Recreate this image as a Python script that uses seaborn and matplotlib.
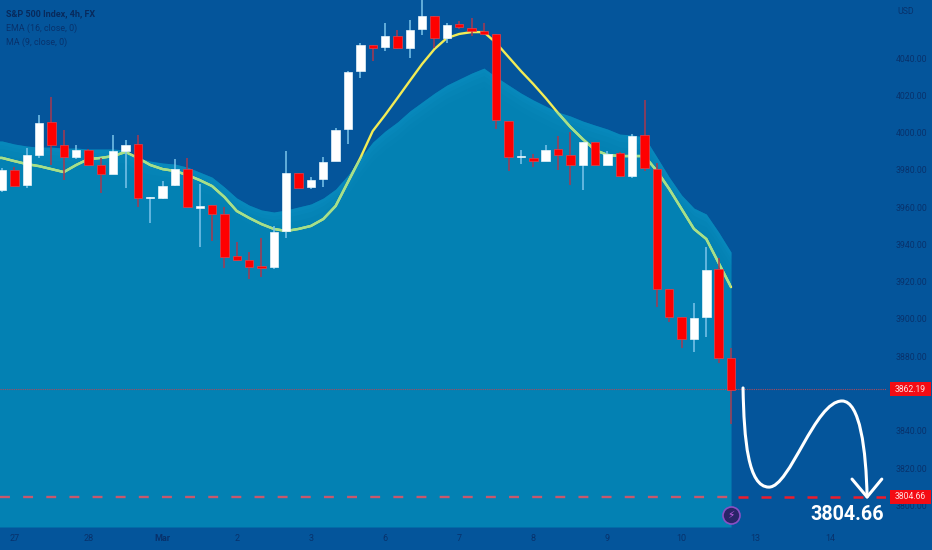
import numpy as np
import pandas as pd
import matplotlib.pyplot as plt
from matplotlib.patches import PathPatch, Rectangle
from matplotlib.path import Path
from matplotlib.transforms import blended_transform_factory
import seaborn as sns

# candles, oldest first (4h bars)
opens = [3969.2, 3979.9, 3971.8, 3987.9, 4005.6, 3993.3, 3986.9, 3990.6, 3982.6, 3977.8,
         3990.1, 3993.8, 3964.9, 3964.9, 3971.8, 3980.4, 3959.5, 3961.1, 3956.3, 3933.8,
         3931.6, 3928.4, 3927.9, 3947.2, 3978.3, 3970.8, 3975.1, 3984.7, 4001.9, 4033.0,
         4047.0, 4045.9, 4051.8, 4045.3, 4055.5, 4062.5, 4050.7, 4058.2, 4056.1, 4054.5,
         4052.9, 4006.2, 3986.9, 3986.3, 3984.7, 3991.2, 3987.9, 3982.6, 3994.9, 3982.6,
         3989.0, 3976.7, 3998.7, 3980.4, 3916.0, 3901.0, 3889.2, 3901.0, 3926.8, 3879.0]
highs = [3981.0, 3981.5, 3991.7, 4009.4, 4019.0, 4001.4, 3993.3, 3991.2, 3986.3, 3998.7,
         3996.0, 3998.7, 3965.4, 3974.0, 3985.8, 3986.3, 3972.4, 3961.1, 3960.0, 3941.3,
         3935.9, 3943.4, 3949.9, 3990.1, 3978.3, 3976.1, 3986.9, 4002.4, 4033.0, 4048.0,
         4047.0, 4058.8, 4055.0, 4060.4, 4071.1, 4062.5, 4058.8, 4059.8, 4061.4, 4058.8,
         4052.9, 4006.2, 3990.6, 3988.5, 3993.3, 3998.1, 4000.3, 3994.9, 3994.9, 3990.1,
         3989.5, 3999.2, 4017.5, 3983.7, 3916.0, 3901.0, 3908.5, 3938.6, 3932.7, 3884.4]
lows = [3968.1, 3970.8, 3970.2, 3986.3, 3982.6, 3974.5, 3985.8, 3982.0, 3967.6, 3977.8,
        3970.2, 3960.0, 3951.5, 3964.3, 3971.3, 3960.0, 3938.6, 3941.8, 3927.3, 3931.1,
        3921.4, 3922.5, 3926.8, 3943.4, 3970.2, 3969.7, 3970.8, 3984.7, 3993.8, 4029.3,
        4038.4, 4043.7, 4044.8, 4040.0, 4052.3, 4045.3, 4048.0, 4055.5, 4051.8, 4052.3,
        4001.9, 3979.4, 3983.1, 3981.5, 3984.7, 3979.9, 3971.8, 3969.2, 3982.6, 3982.6,
        3976.1, 3975.6, 3979.4, 3906.4, 3898.3, 3884.4, 3882.3, 3890.3, 3876.3, 3843.6]
closes = [3979.9, 3971.3, 3987.9, 4005.1, 3993.3, 3986.9, 3990.6, 3982.6, 3977.8, 3990.1,
          3993.3, 3964.9, 3965.4, 3971.3, 3980.4, 3960.0, 3960.6, 3956.3, 3933.2, 3931.6,
          3927.9, 3927.3, 3946.6, 3978.3, 3970.2, 3974.5, 3984.2, 4001.4, 4032.5, 4047.0,
          4045.3, 4051.8, 4045.3, 4055.0, 4062.5, 4050.7, 4057.7, 4056.6, 4054.5, 4052.9,
          4006.7, 3986.9, 3987.2, 3984.7, 3990.6, 3987.9, 3982.6, 3994.9, 3982.6, 3988.5,
          3976.7, 3998.1, 3981.0, 3916.0, 3901.0, 3889.2, 3900.5, 3926.2, 3879.0, 3861.9]

# MA(9) area top and EMA(16) line
ma_values = [3995.5, 3993.9, 3992.8, 3992.2, 3992.2, 3991.7, 3991.7, 3991.2, 3991.2, 3991.2,
             3990.6, 3986.4, 3984.7, 3983.7, 3983.1, 3981.5, 3978.8, 3976.1, 3970.8, 3964.9,
             3961.1, 3958.5, 3957.4, 3958.5, 3960.1, 3961.7, 3964.9, 3969.7, 3977.2, 3986.4,
             3994.9, 4000.8, 4005.7, 4011.6, 4016.4, 4021.2, 4025.5, 4028.7, 4031.9, 4034.6,
             4029.8, 4025.5, 4021.2, 4017.5, 4014.2, 4011.0, 4008.9, 4006.2, 4004.0, 4001.9,
             3999.2, 3998.7, 3997.6, 3986.9, 3976.1, 3966.5, 3959.5, 3956.3, 3946.6, 3935.9]
ema_values = [3986.4, 3984.7, 3983.1, 3982.0, 3980.4, 3978.8, 3982.6, 3985.8, 3986.4, 3987.4,
              3989.6, 3986.4, 3982.6, 3980.4, 3979.4, 3977.2, 3974.5, 3971.3, 3965.4, 3957.9,
              3954.2, 3950.9, 3948.3, 3947.2, 3948.3, 3949.9, 3953.6, 3960.6, 3973.5, 3986.4,
              4000.8, 4009.4, 4018.5, 4027.7, 4036.8, 4044.8, 4050.7, 4052.9, 4053.9, 4053.9,
              4048.0, 4040.5, 4033.0, 4026.0, 4018.5, 4010.5, 4003.0, 3996.5, 3990.6, 3988.0,
              3987.4, 3987.4, 3987.4, 3979.4, 3969.7, 3959.0, 3948.3, 3942.9, 3930.0, 3917.1]

# axis labels (3860 sits under the last price tag, so it is left out)
date_positions = [1, 7, 13, 19, 25, 31, 37, 43, 49, 55, 61, 67]
date_labels = ['27', '28', 'Mar', '2', '3', '6', '7', '8', '9', '10', '13', '14']
price_ticks = [3800, 3820, 3840, 3880, 3900, 3920, 3940, 3960, 3980, 4000, 4020, 4040]

last_price = 3862.19
target_price = 3804.66
target_label = '3804.66'

# hand drawn forecast curve (bezier control points) and its arrow head
curve_x = [59.97, 60.05, 60.38, 62.07, 63.77, 65.8, 67.98, 69.44, 69.93, 70.01]
curve_y = [3863.0, 3835.0, 3809.8, 3809.8, 3809.8, 3856.0, 3856.0, 3856.0, 3829.7, 3804.5]
head_x = [68.79, 70.01, 71.2]
head_y = [3814.1, 3804.5, 3814.1]

BG = '#04559b'
AREA = '#0381b3'
BAND = '#1396cc'
TEXT = '#08326c'
WICK_RED = '#a8384f'
WICK_WHITE = '#7cc4ea'

sns.set_theme(style='dark', rc={'axes.facecolor': BG, 'figure.facecolor': BG})
plt.rcParams['font.family'] = ['Roboto', 'DejaVu Sans']

df = pd.DataFrame({'bar': range(len(opens)), 'open': opens, 'high': highs,
                   'low': lows, 'close': closes})
df['top'] = df[['open', 'close']].max(axis=1)
df['bottom'] = df[['open', 'close']].min(axis=1)
df['size'] = df['top'] - df['bottom']
df['up'] = df['close'] >= df['open']

fig = plt.figure(figsize=(9.32, 5.5), dpi=100)
ax = fig.add_axes([0, 23 / 550, 886 / 932, 527 / 550])
y_floor = 3788.4

# area under MA, first point repeated so it reaches the left edge
area_x = np.arange(-1, len(ma_values))
area_top = np.array([ma_values[0]] + ma_values)
area = ax.fill_between(area_x, y_floor, area_top, color=AREA, lw=0, zorder=1)
# lighter edge fading down from the top of the area
for depth, alpha in [(10, 0.08), (7, 0.1), (4, 0.14), (2, 0.14)]:
    ax.fill_between(area_x, area_top - depth, area_top, color=BAND, alpha=alpha, lw=0, zorder=1.1)

# EMA is yellow on the background, greener over the area
ema_df = pd.DataFrame({'bar': area_x, 'ema': [ema_values[0]] + ema_values})
sns.lineplot(data=ema_df, x='bar', y='ema', color='#f3ec55', lw=1.7, ax=ax, zorder=2)
sns.lineplot(data=ema_df, x='bar', y='ema', color='#a4e08c', lw=1.7, ax=ax, zorder=2.1)
ax.lines[-1].set_clip_path(area.get_paths()[0], transform=ax.transData)

# price lines
ax.axhline(last_price, color='#b04a5a', lw=0.8, ls=(0, (1, 1)), zorder=2.2)
ax.plot([-0.162, 59.0], [target_price, target_price], color='#c8586c', lw=1.7,
        ls=(0, (4.2, 5.6)), zorder=2.2)
ax.plot([59.57, 71.54], [target_price, target_price], color='#ee1c2c', lw=1.8,
        ls=(0, (4.0, 5.2)), zorder=2.2)

# wicks
for up, colour in [(True, WICK_WHITE), (False, WICK_RED)]:
    sub = df[df['up'] == up]
    ax.vlines(sub['bar'], sub['low'], sub['high'], color=colour, lw=1.1, zorder=3)

# bodies
for up, colour, edge in [(True, '#ffffff', '#e8f4fa'), (False, '#ff0000', '#e8404a')]:
    sub = df[df['up'] == up]
    sns.barplot(data=sub, x='bar', y='size', bottom=sub['bottom'].values, native_scale=True,
                color=colour, saturation=1, width=0.68, errorbar=None, edgecolor=edge,
                linewidth=0.5, ax=ax, zorder=4)

# forecast curve
codes = [Path.MOVETO] + [Path.CURVE4] * 9
ax.add_patch(PathPatch(Path(np.column_stack([curve_x, curve_y]), codes), fc='none', ec='white',
                       lw=2.2, capstyle='round', zorder=6))
ax.plot(head_x, head_y, color='white', lw=2.2, solid_capstyle='round', zorder=6)
ax.text(65.4, 3792.4, target_label, color='white', fontsize=14.2, fontweight='bold',
        fontfamily=['Roboto', 'DejaVu Sans'], va='baseline', ha='left', zorder=7)

# axes
ax.set_xlim(-0.162, 71.54)
ax.set_ylim(y_floor, 4071.12)
ax.set_xticks(date_positions)
ax.set_xticklabels(date_labels)
ax.set_yticks(price_ticks)
ax.set_yticklabels([f'{p:.2f}' for p in price_ticks])
ax.yaxis.tick_right()
ax.set_xlabel('')
ax.set_ylabel('')
ax.tick_params(axis='y', length=0, pad=7, labelsize=6.3, labelcolor=TEXT)
ax.tick_params(axis='x', length=0, pad=5, labelsize=6.5, labelcolor=TEXT)
ax.get_xticklabels()[2].set_fontweight('bold')
ax.grid(False)
for spine in ax.spines.values():
    spine.set_visible(False)

# price tags on the scale
tag = blended_transform_factory(ax.transAxes, ax.transData)
for price, label in [(last_price, '3862.19'), (target_price, '3804.66')]:
    ax.add_patch(Rectangle((890 / 886, price - 3.75), 41 / 886, 7.5, transform=tag, fc='#f40c14',
                           ec='none', clip_on=False, zorder=8))
    ax.text(910.5 / 886, price, label, transform=tag, color='#ffe0e0', fontsize=6.2, va='center',
            ha='center', clip_on=False, zorder=8.5)

# lightning badge
ax.scatter([59.0], [3795.0], s=150, color='#2a2468', edgecolor='#8a4fc4', lw=1.2, zorder=9,
           clip_on=False)
ax.text(59.0, 3795.0, '\u26a1', color='#c860e8', fontsize=7.5, ha='center', va='center', zorder=10,
        fontfamily='DejaVu Sans')

# header and legend
fig.text(6 / 932, 1 - 14 / 550, 'S&P 500 Index, 4h, FX', color='#082a5c', fontsize=6.5,
         fontweight='bold', va='center')
fig.text(6 / 932, 1 - 28 / 550, 'EMA (16, close, 0)', color=TEXT, fontsize=6.4, va='center')
fig.text(6 / 932, 1 - 42 / 550, 'MA (9, close, 0)', color=TEXT, fontsize=6.4, va='center')
fig.text(897 / 932, 1 - 11 / 550, 'USD', color=TEXT, fontsize=6.3, va='center')

fig.savefig('out.png', dpi=100, facecolor=BG)
